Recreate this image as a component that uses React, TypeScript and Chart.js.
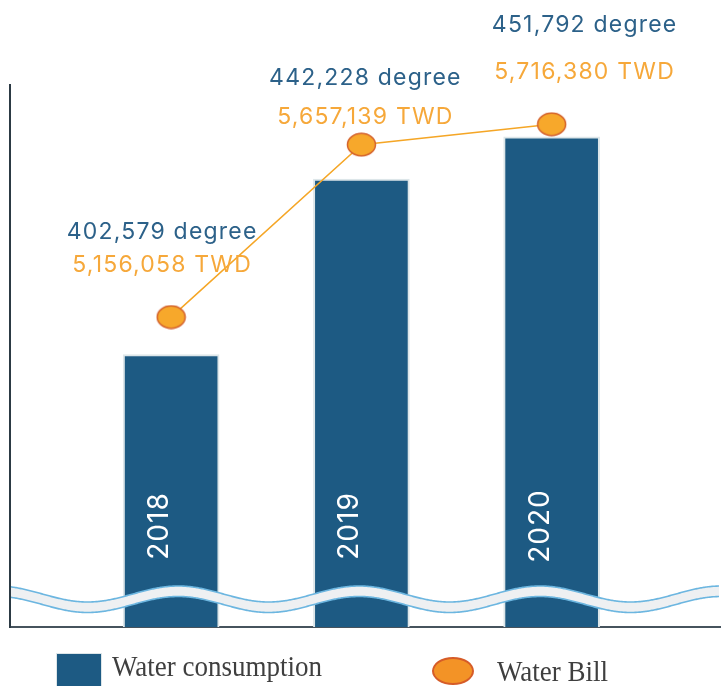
import React, { useEffect, useRef } from 'react';
import { Chart, registerables } from 'chart.js';

Chart.register(...registerables);

// ---- data ----
const categories = ['2018', '2019', '2020'];
const waterConsumption = [402579, 442228, 451792]; // degree
const waterBill = [5156058, 5657139, 5716380]; // TWD
const consumptionUnit = 'degree';
const billUnit = 'TWD';
const legendLabels = ['Water consumption', 'Water Bill'];

// ---- axis ranges (broken axis, bars start well above zero) ----
const consumptionAxis = { min: 341000, max: 463500 };
const billAxis = { min: 4255500, max: 5830500 };

// ---- label layout, relative to each bill point: [dx, blue baseline dy, orange baseline dy] ----
const labelNudge: [number, number, number][] = [
  [-9, -78, -45],
  [4, -60, -21],
  [33, -92, -45],
];

const BAR_BLUE = '#1d5a83';
const BAR_EDGE = '#dde6e9';
const TEXT_BLUE = '#2c6189';
const TEXT_ORANGE = '#f6a83a';
const LINE_ORANGE = '#f5a626';
const LABEL_FONT = 'Inter, "DejaVu Sans", sans-serif';

function makeEllipse(): HTMLCanvasElement {
  const c = document.createElement('canvas');
  c.width = 31;
  c.height = 25;
  const g = c.getContext('2d')!;
  g.beginPath();
  g.ellipse(15.5, 12.5, 14, 11.2, 0, 0, Math.PI * 2);
  g.fillStyle = '#f7a82b';
  g.fill();
  g.lineWidth = 1.5;
  g.strokeStyle = '#d4622c';
  g.stroke();
  return c;
}

const fmt = (v: number) => v.toLocaleString('en-US');

const overlayPlugin = {
  id: 'overlay',
  afterDatasetsDraw(chart: any) {
    const ctx: CanvasRenderingContext2D = chart.ctx;
    const area = chart.chartArea;
    const barMeta = chart.getDatasetMeta(0);
    const lineMeta = chart.getDatasetMeta(1);

    // year labels inside bars (rotated)
    ctx.save();
    ctx.fillStyle = '#ffffff';
    ctx.font = `400 28px ${LABEL_FONT}`;
    (ctx as any).letterSpacing = '1px';
    ctx.textAlign = 'center';
    ctx.textBaseline = 'alphabetic';
    barMeta.data.forEach((bar: any, i: number) => {
      ctx.save();
      ctx.translate(bar.x - 3, area.bottom - 101);
      ctx.rotate(-Math.PI / 2);
      ctx.fillText(categories[i], 0, 0);
      ctx.restore();
    });
    ctx.restore();

    // wavy break band
    const period = 181;
    const amp = 8;
    const thick = 10.5;
    const x0 = barMeta.data[0].x + 7;
    const mid = area.bottom - 33;
    const left = area.left + 1;
    const right = area.right - 1;
    const topY = (x: number) => mid - amp * Math.cos((2 * Math.PI * (x - x0)) / period);
    ctx.save();
    ctx.beginPath();
    for (let x = left; x <= right; x += 1) ctx.lineTo(x, topY(x));
    for (let x = right; x >= left; x -= 1) ctx.lineTo(x, topY(x) + thick);
    ctx.closePath();
    ctx.fillStyle = '#eef0f2';
    ctx.fill();
    ctx.strokeStyle = '#6cb6e0';
    ctx.lineWidth = 1.6;
    ctx.beginPath();
    for (let x = left; x <= right; x += 1) ctx.lineTo(x, topY(x));
    ctx.stroke();
    ctx.beginPath();
    for (let x = left; x <= right; x += 1) ctx.lineTo(x, topY(x) + thick);
    ctx.stroke();
    ctx.restore();

    // value labels
    ctx.save();
    ctx.font = `400 23px ${LABEL_FONT}`;
    (ctx as any).letterSpacing = '1.2px';
    ctx.textAlign = 'center';
    ctx.textBaseline = 'alphabetic';
    lineMeta.data.forEach((pt: any, i: number) => {
      const [dx, dyBlue, dyOrange] = labelNudge[i];
      ctx.fillStyle = TEXT_BLUE;
      ctx.fillText(`${fmt(waterConsumption[i])} ${consumptionUnit}`, pt.x + dx, pt.y + dyBlue);
      ctx.fillStyle = TEXT_ORANGE;
      ctx.fillText(`${fmt(waterBill[i])} ${billUnit}`, pt.x + dx, pt.y + dyOrange);
    });
    ctx.restore();
  },
};

export default function App() {
  const ref = useRef<HTMLCanvasElement | null>(null);

  useEffect(() => {
    if (!ref.current) return;
    const pointImg = makeEllipse();
    const chart = new Chart(ref.current, {
      type: 'bar',
      data: {
        datasets: [
          {
            type: 'bar',
            label: legendLabels[0],
            data: waterConsumption.map((v, i) => ({ x: i, y: v })),
            backgroundColor: BAR_BLUE,
            borderColor: BAR_EDGE,
            borderWidth: { top: 2, left: 2, right: 2, bottom: 0 },
            borderSkipped: 'bottom',
            barThickness: 96,
            yAxisID: 'y',
            order: 2,
          } as any,
          {
            type: 'line',
            label: legendLabels[1],
            data: waterBill.map((v, i) => ({ x: i, y: v })),
            borderColor: LINE_ORANGE,
            borderWidth: 1.5,
            pointStyle: pointImg,
            pointRadius: 14,
            pointHoverRadius: 14,
            fill: false,
            tension: 0,
            yAxisID: 'y2',
            order: 1,
          } as any,
        ],
      },
      options: {
        animation: false,
        responsive: true,
        maintainAspectRatio: false,
        events: [],
        layout: { autoPadding: false, padding: { left: 10, right: 5, top: 85, bottom: 59 } },
        plugins: { legend: { display: false }, tooltip: { enabled: false } },
        scales: {
          x: {
            type: 'linear',
            min: -0.847,
            max: 2.885,
            offset: false,
            ticks: { display: false },
            grid: { display: false, drawTicks: false },
            border: { display: true, color: '#46535d', width: 2 },
          },
          y: {
            type: 'linear',
            position: 'left',
            min: consumptionAxis.min,
            max: consumptionAxis.max,
            ticks: { display: false },
            grid: { display: false, drawTicks: false },
            border: { display: true, color: '#2c3a44', width: 2 },
          },
          y2: {
            type: 'linear',
            position: 'right',
            display: false,
            min: billAxis.min,
            max: billAxis.max,
          },
        },
      } as any,
      plugins: [overlayPlugin],
    });
    return () => chart.destroy();
  }, []);

  const serif = '"Liberation Serif", "Times New Roman", serif';
  return (
    <div style={{ position: 'absolute', left: 0, top: 0, width: 725, height: 686, overflow: 'hidden', background: '#fff' }}>
      <div style={{ position: 'absolute', left: 0, top: 0, width: 725, height: 686 }}>
        <canvas ref={ref} />
      </div>
      <div
        style={{
          position: 'absolute', left: 56, top: 653, width: 46, height: 40,
          background: BAR_BLUE, border: `1.5px solid ${BAR_EDGE}`, boxSizing: 'border-box',
        }}
      />
      <div
        style={{
          position: 'absolute', left: 112, top: 652.3, fontFamily: serif, fontSize: 29.5,
          lineHeight: '29.5px', color: '#3f3f3f', transform: 'scaleX(0.915)', transformOrigin: 'left top',
          whiteSpace: 'nowrap',
        }}
      >
        {legendLabels[0]}
      </div>
      <div
        style={{
          position: 'absolute', left: 432, top: 657, width: 42, height: 28,
          background: '#f39326', border: '2px solid #d65c28', borderRadius: '50%', boxSizing: 'border-box',
        }}
      />
      <div
        style={{
          position: 'absolute', left: 497, top: 657.3, fontFamily: serif, fontSize: 29.5,
          lineHeight: '29.5px', color: '#3f3f3f', transform: 'scaleX(0.915)', transformOrigin: 'left top',
          whiteSpace: 'nowrap',
        }}
      >
        {legendLabels[1]}
      </div>
    </div>
  );
}
